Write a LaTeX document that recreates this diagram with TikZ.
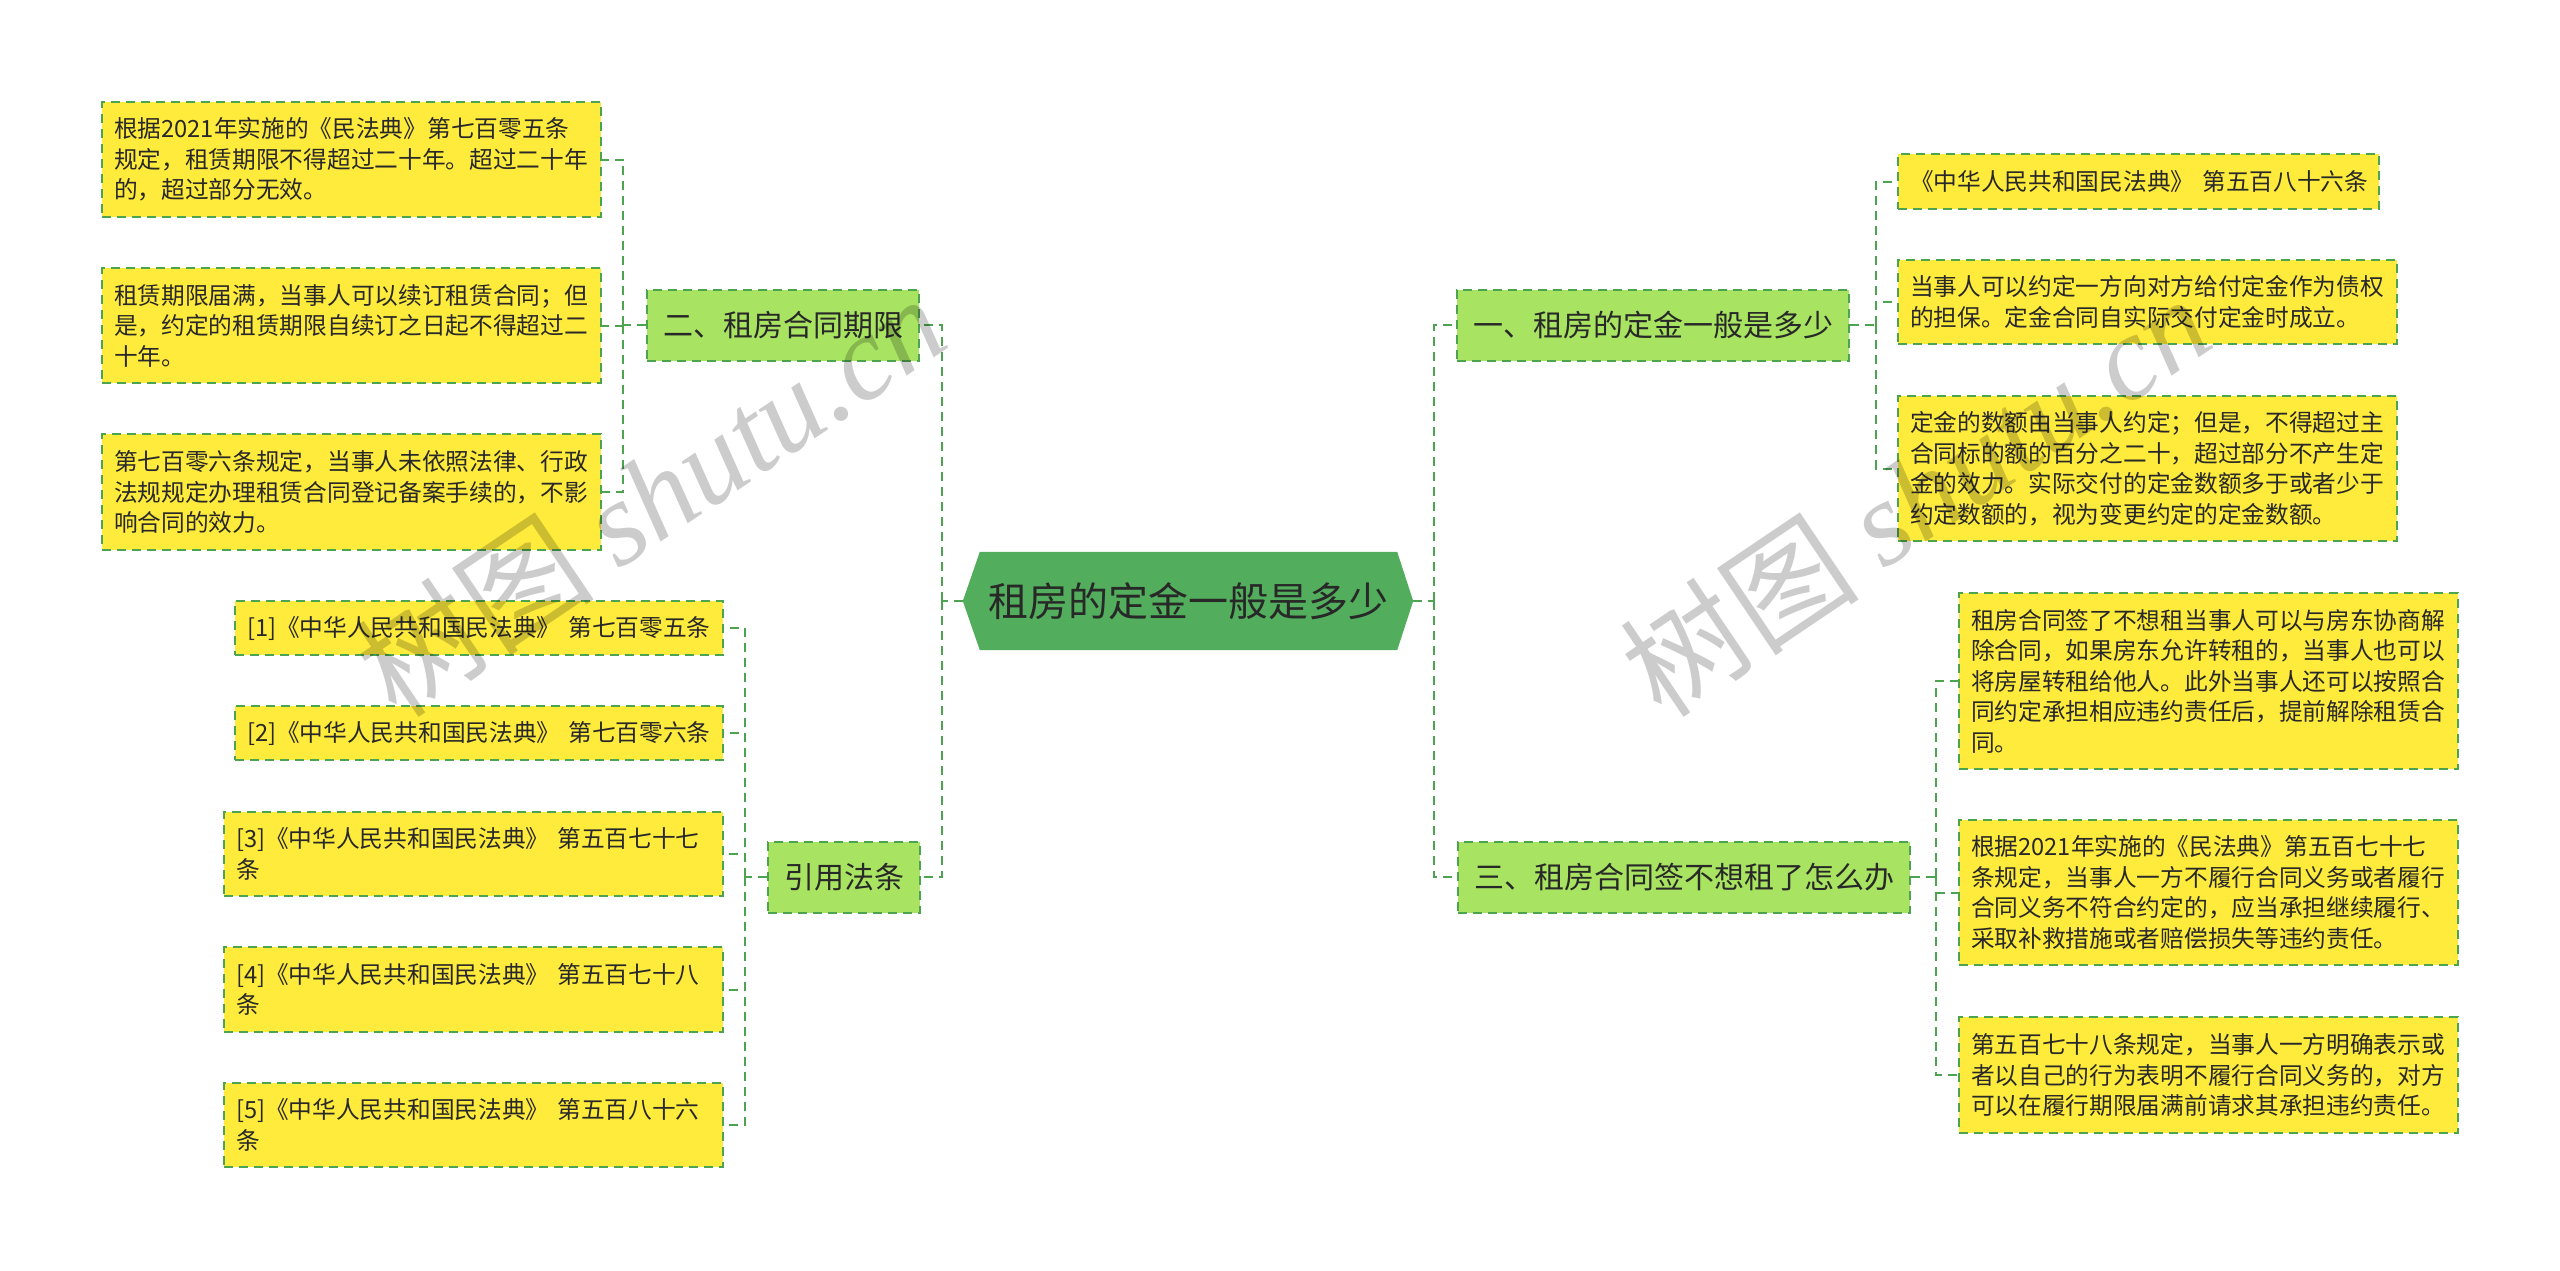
\documentclass[tikz,border=0pt]{standalone}
\usepackage{fontspec}
\setmainfont{Noto Sans CJK SC}
\newfontfamily\wmlatin{Liberation Serif}
\usepackage{tikz}
\usetikzlibrary{backgrounds}

\definecolor{rootgreen}{RGB}{82,174,92}
\definecolor{branchgreen}{RGB}{168,228,98}
\definecolor{leafyellow}{RGB}{255,235,59}
\definecolor{linegreen}{RGB}{76,164,80}
\definecolor{textdark}{RGB}{40,40,40}

\tikzset{
  link/.style={draw=linegreen, line width=2pt, dash pattern=on 9pt off 6pt},
  root/.style={minimum width=417pt, minimum height=98pt, inner sep=0pt,
    text=textdark, font=\fontsize{40pt}{48pt}\selectfont},
  branch/.style={link, fill=branchgreen, minimum height=71pt, inner xsep=16pt,
    text=textdark, font=\fontsize{30pt}{36pt}\selectfont},
  leaf/.style={link, fill=leafyellow, text width=#1, align=left,
    inner xsep=12pt, inner ysep=0pt, text=textdark,
    font=\fontsize{23.7pt}{30.5pt}\selectfont},
  leaf/.default=475pt,
  watermark/.style={rotate=34, text=black, text opacity=0.2,
    font=\fontsize{120pt}{120pt}\selectfont}
}

\begin{document}
\begin{tikzpicture}[x=1pt, y=-1pt]
        % Fix the page size
        \useasboundingbox (0,0) rectangle (2560,1270);

        % Central topic with its hexagon
        \node[root] (root) at (1188.5,601) {租房的定金一般是多少};
        \begin{scope}[on background layer]
          \fill[rootgreen] ([xshift=-17pt]root.west) -- (root.north west) -- (root.north east)
            -- ([xshift=16pt]root.east) -- (root.south east) -- (root.south west) -- cycle;
        \end{scope}

        % Main branches
        \node[branch, anchor=east] (L1) at (920,325) {二、租房合同期限};
        \node[branch, anchor=east] (L2) at (921,877) {引用法条};
        \node[branch, anchor=west] (R1) at (1456,325) {一、租房的定金一般是多少};
        \node[branch, anchor=west] (R2) at (1457,877) {三、租房合同签不想租了怎么办};

        % Leaves of the lease term branch
        \node[leaf, minimum height=115pt] (a1) at (351.5,159.5) {根据2021年实施的《民法典》第七百零五条\\规定，租赁期限不得超过二十年。超过二十年\\的，超过部分无效。};
        \node[leaf, minimum height=115pt] (a2) at (351.5,325.5) {租赁期限届满，当事人可以续订租赁合同；但\\是，约定的租赁期限自续订之日起不得超过二\\十年。};
        \node[leaf, minimum height=116pt] (a3) at (351.5,492) {第七百零六条规定，当事人未依照法律、行政\\法规规定办理租赁合同登记备案手续的，不影\\响合同的效力。};

        % Leaves of the cited articles branch
        \node[leaf=464pt, minimum height=54pt] (b1) at (479,628) {[1]《中华人民共和国民法典》~第七百零五条};
        \node[leaf=464pt, minimum height=54pt] (b2) at (479,733) {[2]《中华人民共和国民法典》~第七百零六条};
        \node[leaf, minimum height=84pt] (b3) at (473.5,854) {[3]《中华人民共和国民法典》~第五百七十七\\条};
        \node[leaf, minimum height=85pt] (b4) at (473.5,989.5) {[4]《中华人民共和国民法典》~第五百七十八\\条};
        \node[leaf, minimum height=84pt] (b5) at (473.5,1125) {[5]《中华人民共和国民法典》~第五百八十六\\条};

        % Leaves of the deposit branch
        \node[leaf=457pt, minimum height=55pt] (c1) at (2138.5,181.5) {《中华人民共和国民法典》~第五百八十六条};
        \node[leaf, minimum height=84pt] (c2) at (2147.5,302) {当事人可以约定一方向对方给付定金作为债权\\的担保。定金合同自实际交付定金时成立。};
        \node[leaf, minimum height=145pt] (c3) at (2147.5,468.5) {定金的数额由当事人约定；但是，不得超过主\\合同标的额的百分之二十，超过部分不产生定\\金的效力。实际交付的定金数额多于或者少于\\约定数额的，视为变更约定的定金数额。};

        % Leaves of the cancelling branch
        \node[leaf, minimum height=176pt] (d1) at (2208.5,681) {租房合同签了不想租当事人可以与房东协商解\\除合同，如果房东允许转租的，当事人也可以\\将房屋转租给他人。此外当事人还可以按照合\\同约定承担相应违约责任后，提前解除租赁合\\同。};
        \node[leaf, minimum height=145pt] (d2) at (2208.5,892.5) {根据2021年实施的《民法典》第五百七十七\\条规定，当事人一方不履行合同义务或者履行\\合同义务不符合约定的，应当承担继续履行、\\采取补救措施或者赔偿损失等违约责任。};
        \node[leaf, minimum height=116pt] (d3) at (2208.5,1075) {第五百七十八条规定，当事人一方明确表示或\\者以自己的行为表明不履行合同义务的，对方\\可以在履行期限届满前请求其承担违约责任。};

        % Junctions of the elbow connectors
        \coordinate (jl) at (942,601);
        \coordinate (jr) at (1434,601);
        \coordinate (jl1) at (623,325);
        \coordinate (jl2) at (745,877);
        \coordinate (jr1) at (1876,325);
        \coordinate (jr2) at (1936,877);

        % Connect root to the branches
        \draw[link] ([xshift=-17pt]root.west) -- (jl);
        \draw[link] ([xshift=16pt]root.east) -- (jr);
        \foreach \n in {L1,L2} \draw[link] (jl) |- (\n.east);
        \foreach \n in {R1,R2} \draw[link] (jr) |- (\n.west);

        % Connect the branches to their leaves
        \draw[link] (L1.west) -- (jl1);
        \foreach \n in {a1,a2,a3} \draw[link] (jl1) |- (\n.east);
        \draw[link] (L2.west) -- (jl2);
        \foreach \n in {b1,b2,b3,b4,b5} \draw[link] (jl2) |- (\n.east);
        \draw[link] (R1.east) -- (jr1);
        \foreach \n in {c1,c2,c3} \draw[link] (jr1) |- (\n.west);
        \draw[link] (R2.east) -- (jr2);
        \foreach \n in {d1,d2,d3} \draw[link] (jr2) |- (\n.west);

        % Watermarks
        \node[watermark] (wm1) at (650,495) {树图 {\wmlatin\itshape shutu.cn}};
        \node[watermark] (wm2) at (1915,495) {树图 {\wmlatin\itshape shutu.cn}};
    \end{tikzpicture}
\end{document}
